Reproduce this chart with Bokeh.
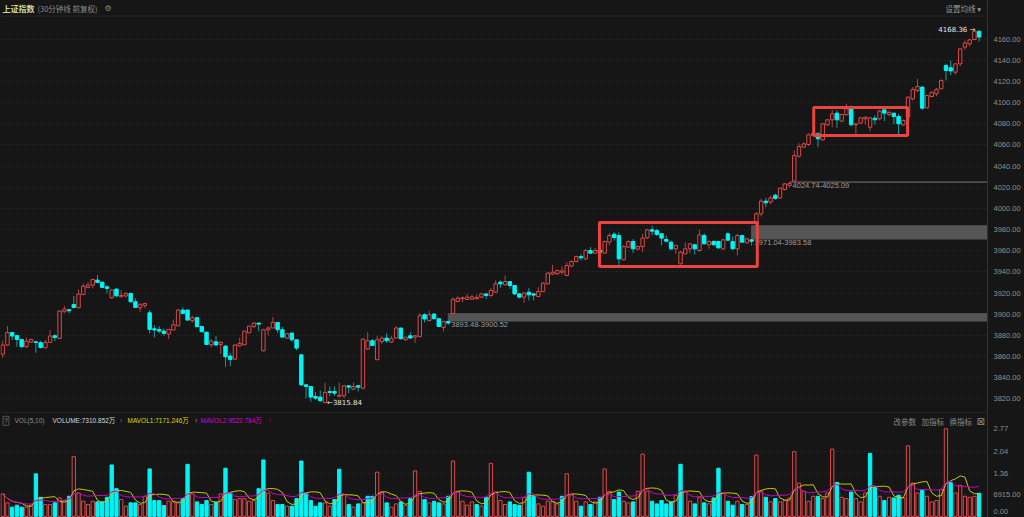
import pandas as pd
from bokeh.plotting import figure
from bokeh.models import (ColumnDataSource, Range1d, FixedTicker, PrintfTickFormatter,
                          BoxAnnotation, Label, Span, GlobalInlineStyleSheet)
from bokeh.layouts import column
from bokeh.embed import file_html
from bokeh.resources import INLINE

# ---------------- data (30-minute bars, Shanghai Composite) ----------------
title_name = "上证指数"
title_note = "(30分钟线 前复权)"

opens = [
    3862.2, 3870.8, 3882.7, 3879.9, 3876.1, 3869.2, 3873.6, 3873.9, 3873.0, 3868.2,
    3873.3, 3879.6, 3877.1, 3902.3, 3904.2, 3909.2, 3906.1, 3918.7, 3925.3, 3927.5,
    3932.2, 3930.3, 3925.9, 3915.5, 3923.7, 3916.5, 3917.3, 3919.6, 3911.7, 3906.1,
    3908.3, 3901.3, 3886.2, 3885.6, 3884.0, 3881.2, 3885.0, 3889.0, 3903.9, 3903.9,
    3893.8, 3896.6, 3888.4, 3883.0, 3871.1, 3873.9, 3871.4, 3869.8, 3860.4, 3857.5,
    3870.1, 3871.1, 3882.4, 3888.4, 3891.6, 3865.4, 3885.3, 3886.9, 3892.2, 3885.3,
    3877.4, 3882.1, 3875.8, 3861.6, 3833.2, 3831.6, 3822.2, 3821.6, 3816.5, 3826.9,
    3826.9, 3822.2, 3822.8, 3832.3, 3829.1, 3832.3, 3830.0, 3867.0, 3874.9, 3856.9,
    3874.2, 3877.4, 3873.6, 3877.4, 3886.9, 3875.8, 3879.6, 3878.3, 3879.0, 3899.5,
    3894.1, 3900.1, 3895.7, 3887.5, 3893.2, 3900.6, 3912.0, 3914.6, 3913.9, 3914.2,
    3914.5, 3916.1, 3919.2, 3917.7, 3920.8, 3930.3, 3927.8, 3930.9, 3927.1, 3919.2,
    3916.1, 3920.8, 3919.2, 3916.7, 3921.4, 3928.7, 3937.8, 3938.2, 3939.7, 3936.6,
    3945.4, 3949.8, 3954.5, 3952.3, 3960.2, 3957.7, 3960.5, 3957.7, 3968.1, 3975.6,
    3974.4, 3951.4, 3963.4, 3968.7, 3961.5, 3964.0, 3972.2, 3979.8, 3979.1, 3976.0,
    3970.6, 3968.1, 3961.8, 3947.6, 3957.0, 3961.8, 3965.6, 3960.2, 3974.4, 3965.6,
    3968.7, 3968.7, 3961.8, 3976.0, 3968.7, 3961.8, 3974.4, 3967.5, 3970.3, 3985.4,
    3994.9, 4006.9, 4006.0, 4012.5, 4010.0, 4017.9, 4021.8, 4025.8, 4049.4, 4058.0,
    4060.4, 4069.0, 4070.5, 4064.8, 4079.0, 4083.8, 4090.1, 4082.5, 4088.5, 4096.4,
    4079.0, 4080.6, 4084.7, 4076.8, 4085.3, 4084.7, 4093.2, 4088.8, 4090.1, 4086.9,
    4079.0, 4086.3, 4103.6, 4111.5, 4114.7, 4095.1, 4105.8, 4108.3, 4113.1, 4135.2,
    4133.0, 4128.8, 4136.7, 4152.5, 4155.6, 4159.7, 4167.6]

highs = [
    3874.9, 3888.7, 3882.9, 3880.2, 3876.5, 3878.0, 3876.8, 3874.2, 3874.9, 3875.5,
    3885.0, 3881.2, 3903.9, 3908.0, 3905.0, 3917.1, 3923.4, 3929.0, 3930.6, 3933.5,
    3937.0, 3930.6, 3927.5, 3923.7, 3924.6, 3922.8, 3920.9, 3920.5, 3914.9, 3910.8,
    3910.8, 3903.9, 3889.7, 3888.7, 3886.5, 3885.6, 3895.0, 3905.0, 3906.4, 3904.8,
    3898.2, 3897.5, 3889.0, 3883.4, 3876.4, 3879.3, 3874.5, 3870.8, 3863.5, 3871.7,
    3877.7, 3884.0, 3889.0, 3892.2, 3891.6, 3886.2, 3888.4, 3897.3, 3892.2, 3888.0,
    3882.0, 3883.0, 3876.0, 3862.0, 3833.8, 3832.0, 3826.3, 3827.9, 3835.4, 3831.6,
    3831.6, 3835.4, 3832.3, 3832.3, 3835.4, 3833.2, 3877.0, 3882.7, 3876.5, 3879.6,
    3879.0, 3882.0, 3879.6, 3888.4, 3887.0, 3878.3, 3883.0, 3880.0, 3901.0, 3901.0,
    3903.3, 3901.0, 3896.0, 3893.5, 3893.48, 3916.1, 3916.7, 3916.7, 3919.2, 3918.3,
    3918.6, 3920.2, 3919.4, 3924.9, 3931.9, 3931.9, 3936.6, 3931.0, 3927.5, 3920.0,
    3920.8, 3924.9, 3920.2, 3925.5, 3930.3, 3939.7, 3946.7, 3941.8, 3945.1, 3949.2,
    3950.8, 3955.5, 3957.1, 3961.8, 3963.4, 3962.7, 3962.0, 3969.7, 3976.6, 3977.5,
    3977.5, 3965.0, 3969.7, 3971.2, 3965.0, 3976.0, 3980.7, 3983.8, 3980.7, 3976.6,
    3974.4, 3969.7, 3965.6, 3959.6, 3968.1, 3967.1, 3966.5, 3979.8, 3976.6, 3969.7,
    3970.0, 3969.7, 3971.2, 3977.5, 3973.4, 3976.0, 3975.0, 3972.2, 3971.04, 3996.5,
    4009.1, 4010.0, 4012.0, 4014.0, 4020.0, 4024.0, 4024.74, 4054.8, 4061.7, 4062.5,
    4071.0, 4072.0, 4072.0, 4080.6, 4084.5, 4093.2, 4092.6, 4089.5, 4098.9, 4097.3,
    4080.0, 4086.5, 4086.9, 4085.7, 4087.9, 4093.2, 4093.2, 4092.6, 4090.1, 4089.4,
    4084.0, 4106.0, 4114.7, 4122.5, 4115.6, 4107.5, 4110.5, 4114.0, 4122.0, 4136.7,
    4139.9, 4136.7, 4151.5, 4158.8, 4160.4, 4168.36, 4168.0]

lows = [
    3858.8, 3870.2, 3875.5, 3869.2, 3868.5, 3868.0, 3872.8, 3863.5, 3867.6, 3867.6,
    3872.8, 3874.5, 3876.5, 3901.3, 3900.7, 3905.4, 3905.5, 3918.0, 3924.3, 3924.3,
    3930.0, 3924.5, 3919.6, 3914.5, 3916.0, 3916.0, 3915.5, 3911.0, 3906.0, 3902.3,
    3905.7, 3881.8, 3878.0, 3881.8, 3879.6, 3876.4, 3885.0, 3889.0, 3899.8, 3894.0,
    3891.9, 3887.5, 3883.0, 3871.0, 3868.5, 3870.5, 3862.2, 3850.3, 3850.9, 3856.6,
    3869.2, 3871.0, 3882.0, 3886.9, 3883.7, 3864.8, 3879.9, 3886.9, 3882.1, 3878.0,
    3876.8, 3874.0, 3866.0, 3832.0, 3820.6, 3817.4, 3819.0, 3817.4, 3815.84, 3822.2,
    3822.8, 3821.6, 3820.6, 3825.3, 3828.0, 3826.9, 3829.0, 3866.4, 3870.0, 3856.6,
    3872.0, 3872.7, 3872.7, 3877.0, 3876.0, 3875.2, 3877.0, 3872.7, 3878.0, 3892.2,
    3893.0, 3895.0, 3888.0, 3883.7, 3890.0, 3900.52, 3911.4, 3911.4, 3913.6, 3913.6,
    3913.9, 3915.5, 3914.5, 3916.1, 3920.0, 3924.9, 3927.1, 3924.0, 3918.0, 3915.0,
    3910.7, 3913.0, 3913.0, 3916.1, 3920.8, 3928.0, 3937.5, 3937.0, 3937.5, 3936.0,
    3944.5, 3949.0, 3950.8, 3951.0, 3957.0, 3957.0, 3957.5, 3957.0, 3964.9, 3969.7,
    3946.0, 3951.0, 3962.4, 3957.7, 3960.5, 3958.6, 3971.0, 3974.4, 3974.0, 3965.0,
    3968.0, 3960.2, 3957.0, 3947.0, 3957.0, 3957.7, 3956.4, 3959.0, 3966.0, 3961.8,
    3965.0, 3962.0, 3961.0, 3969.0, 3961.0, 3955.5, 3967.5, 3967.0, 3964.9, 3983.58,
    3992.4, 4001.2, 4004.0, 4008.0, 4009.0, 4017.0, 4020.1, 4025.09, 4048.0, 4057.0,
    4059.0, 4068.0, 4058.0, 4064.2, 4078.0, 4076.8, 4076.2, 4082.0, 4088.0, 4078.4,
    4069.0, 4080.0, 4079.0, 4073.0, 4079.0, 4083.1, 4082.5, 4086.9, 4079.4, 4069.6,
    4078.0, 4086.0, 4102.0, 4110.0, 4093.2, 4094.5, 4105.0, 4106.0, 4112.5, 4121.0,
    4126.0, 4126.7, 4134.5, 4150.0, 4153.1, 4159.0, 4157.8]

closes = [
    3870.8, 3882.7, 3879.3, 3876.1, 3869.2, 3874.5, 3876.1, 3873.3, 3868.5, 3873.3,
    3879.3, 3878.0, 3902.9, 3904.8, 3903.2, 3906.4, 3919.0, 3926.5, 3927.5, 3932.8,
    3930.0, 3925.3, 3924.3, 3922.8, 3917.4, 3917.7, 3919.6, 3911.7, 3906.4, 3908.9,
    3910.2, 3885.6, 3885.0, 3884.0, 3881.8, 3885.6, 3890.0, 3903.9, 3900.7, 3894.4,
    3896.6, 3888.1, 3883.4, 3871.4, 3874.5, 3870.8, 3873.3, 3859.7, 3857.2, 3870.8,
    3872.3, 3884.0, 3888.7, 3891.6, 3890.6, 3885.3, 3886.9, 3892.2, 3885.3, 3878.3,
    3881.5, 3875.8, 3867.9, 3833.2, 3831.6, 3821.6, 3820.6, 3818.1, 3826.0, 3826.0,
    3825.3, 3823.4, 3832.3, 3831.0, 3831.6, 3831.0, 3876.4, 3874.9, 3870.4, 3875.8,
    3877.4, 3874.9, 3876.8, 3886.9, 3876.8, 3878.3, 3877.4, 3879.6, 3898.5, 3895.4,
    3899.5, 3895.7, 3888.4, 3893.2, 3891.6, 3914.0, 3915.2, 3915.5, 3916.1, 3916.4,
    3915.8, 3919.2, 3917.7, 3922.4, 3928.7, 3928.7, 3930.9, 3927.1, 3919.2, 3916.1,
    3919.9, 3918.3, 3918.0, 3921.4, 3929.3, 3938.8, 3939.7, 3941.3, 3940.9, 3946.0,
    3949.8, 3954.5, 3953.3, 3960.2, 3957.7, 3960.2, 3958.5, 3968.7, 3974.4, 3972.5,
    3952.3, 3964.0, 3968.7, 3961.8, 3964.0, 3971.9, 3979.8, 3978.5, 3975.3, 3971.9,
    3969.0, 3961.8, 3965.0, 3958.6, 3961.8, 3966.5, 3961.8, 3975.0, 3966.5, 3968.7,
    3965.6, 3962.7, 3970.3, 3970.0, 3961.8, 3974.4, 3968.1, 3971.2, 3969.0, 3994.9,
    4006.9, 4005.3, 4010.0, 4009.5, 4019.1, 4023.2, 4023.5, 4050.0, 4058.5, 4061.0,
    4069.6, 4071.0, 4065.8, 4080.0, 4083.8, 4089.4, 4083.8, 4088.8, 4094.2, 4079.0,
    4080.0, 4085.7, 4086.3, 4085.7, 4083.8, 4092.0, 4090.1, 4090.6, 4086.9, 4080.0,
    4083.1, 4105.2, 4112.5, 4115.3, 4094.8, 4106.8, 4109.9, 4112.5, 4121.0, 4130.4,
    4130.0, 4136.7, 4150.9, 4156.3, 4159.4, 4167.6, 4162.0]

# volume in 万 (10k lots)
volumes = [
    7090, 4280, 2920, 3550, 2920, 2920, 3550, 13450, 6050, 3750,
    3750, 4280, 5840, 5010, 6360, 18880, 7410, 4800, 3750, 4800,
    4590, 4590, 6050, 16270, 8760, 5320, 3230, 4280, 4280, 3750,
    6360, 15020, 5010, 5010, 3440, 4800, 4800, 4280, 5630, 16480,
    7090, 4590, 3750, 5010, 3750, 4590, 7090, 15230, 7410, 5320,
    5630, 5630, 4800, 5010, 8760, 17840, 7410, 5010, 3750, 3750,
    3230, 3230, 5630, 17520, 7410, 5010, 3230, 4280, 4280, 3230,
    5320, 14920, 6880, 3750, 2920, 3960, 4280, 6360, 6360, 13980,
    7720, 4280, 2920, 3960, 4590, 3550, 5630, 14390, 7930, 5320,
    4280, 4800, 4280, 3960, 6360, 17520, 7720, 4800, 3550, 4590,
    3750, 3230, 6050, 16790, 7720, 5010, 3750, 4590, 3750, 3550,
    6050, 13980, 6360, 3960, 3230, 4800, 4800, 3960, 6360, 13450,
    6880, 4800, 3230, 4590, 3750, 4590, 6050, 15020, 7930, 5320,
    7720, 4800, 4280, 4590, 7930, 19710, 7930, 4800, 3960, 5010,
    3960, 4590, 6680, 16480, 7720, 4800, 3960, 6050, 4280, 3960,
    5840, 15230, 7410, 4800, 3550, 4800, 3750, 3750, 6260, 19400,
    7930, 6050, 4590, 5630, 4590, 5010, 5840, 20440, 10530, 7930,
    4800, 6360, 6360, 5630, 7410, 21280, 10740, 6050, 5630, 7720,
    5630, 4590, 7410, 19920, 9180, 6360, 5010, 6050, 5840, 6680,
    5840, 22320, 10530, 7410, 8450, 6360, 4590, 5010, 8450, 27700,
    10740, 7410, 9800, 6360, 6050, 6360, 7311]

price_ticks = [3820, 3840, 3860, 3880, 3900, 3920, 3940, 3960, 3980, 4000,
               4020, 4040, 4060, 4080, 4100, 4120, 4140, 4160]
vol_ticks = [6915, 13600, 20400, 27700]
vol_tick_labels = ["6915.00", "1.36", "2.04", "2.77"]

# price gaps (index of the bar before each gap) and highlighted boxes
gap_bars = [94, 158, 166]
boxes = [(125.9, 159.2, 3945.1, 3986.7), (171.1, 190.9, 4068.9, 4095.4)]

vol_legend = [("VOL(5,10)", "#8c8c8c"), ("VOLUME:7310.852万", "#d6d6d6"), ("↑", "#9a9a9a"),
              ("MAVOL1:7171.246万", "#d8d800"), ("↑", "#d8d800"),
              ("MAVOL2:9522.784万", "#d400d4"), ("↑", "#d400d4")]
vol_menu = ["改参数", "加指标", "换指标"]

# ---------------- styling / geometry ----------------
BG = "#161616"
RED = "#e04848"
RED_WICK = "#b04444"
CYAN = "#00f4f4"
CYAN_WICK = "#169c9c"
GRID = "#353535"
TXT = "#8f8f8f"
NUM_FONT = "Liberation Sans"
CJK_FONT = "Noto Sans CJK SC"
W, PH, VH = 1024, 413, 104
RIGHT = 37


def xi(px):          # screen x in the reference -> bar index
    return (px - 2.2) / 4.74


def yp(py):          # screen y (price panel) -> price
    return 4160 - (py - 38.7) / 1.0576


def yv(py):          # screen y (volume panel, page coords) -> volume
    return (515.9 - py) / 0.0031625


n = len(closes)
df = pd.DataFrame({"i": list(range(n)), "open": opens, "high": highs,
                   "low": lows, "close": closes, "vol": volumes})
df["top"] = df[["open", "close"]].max(axis=1)
df["bottom"] = df[["open", "close"]].min(axis=1)
up = df["close"] >= df["open"]
prev_close = df["close"].shift(1).fillna(df["open"])
vol_up = df["close"] >= prev_close
df["ma5"] = df["vol"].rolling(5, min_periods=1).mean()
df["ma10"] = df["vol"].rolling(10, min_periods=1).mean()

src_up = ColumnDataSource(df[up])
src_dn = ColumnDataSource(df[~up])
vsrc_up = ColumnDataSource(df[vol_up])
vsrc_dn = ColumnDataSource(df[~vol_up])
src_all = ColumnDataSource(df)

xr = Range1d(xi(0), xi(987))

# ---------------- price panel ----------------
p = figure(width=W, height=PH, x_range=xr, y_range=Range1d(yp(413), yp(0)),
           x_axis_location=None, y_axis_location="right", output_backend="svg",
           toolbar_location=None, min_border_left=0, min_border_right=RIGHT,
           min_border_top=0, min_border_bottom=0, background_fill_color=BG,
           border_fill_color=BG, outline_line_color=None)
p.xgrid.visible = False
p.ygrid.ticker = FixedTicker(ticks=price_ticks)
p.ygrid.grid_line_color = GRID
p.ygrid.grid_line_dash = "1 3"
ax = p.yaxis[0]
ax.ticker = FixedTicker(ticks=price_ticks)
ax.formatter = PrintfTickFormatter(format="%.2f")
ax.major_label_text_font = NUM_FONT
ax.major_label_text_font_size = "7.5px"
ax.major_label_text_color = TXT
ax.major_tick_line_color = None
ax.minor_tick_line_color = None
ax.major_tick_out = 0
ax.major_label_standoff = 6
ax.axis_line_color = "#333333"

# price gaps
for gi in gap_bars:
    lo, hi = highs[gi], lows[gi + 1]
    p.add_layout(BoxAnnotation(left=gi, bottom=lo, top=hi, fill_color="#555555",
                               fill_alpha=1.0, line_color="#555555", line_alpha=1.0,
                               line_width=1, level="underlay"))
    p.add_layout(Label(x=gi, y=lo, text=f"{lo:.2f}-{hi:.2f}", text_baseline="top",
                       x_offset=3, y_offset=-1, text_font=NUM_FONT,
                       text_font_size="7.5px", text_color="#9c9c9c"))

# candles
p.segment(x0="i", y0="high", x1="i", y1="low", source=src_up, line_color=RED_WICK, line_width=1)
p.segment(x0="i", y0="high", x1="i", y1="low", source=src_dn, line_color=CYAN_WICK, line_width=1)
p.vbar(x="i", width=0.72, top="top", bottom="bottom", source=src_up,
       fill_color=BG, line_color=RED, line_width=1)
p.vbar(x="i", width=0.72, top="top", bottom="bottom", source=src_dn,
       fill_color=CYAN, line_color=CYAN, line_width=1)

# highlighted boxes
for (l, r, b, t) in boxes:
    p.add_layout(BoxAnnotation(left=l, right=r, bottom=b, top=t, fill_alpha=0,
                               line_color="#ea4440", line_width=3, line_alpha=1.0))

# extreme labels
imax = int(df["high"].idxmax())
imin = int(df["low"].idxmin())
p.add_layout(Label(x=imax, y=highs[imax], text=f"{highs[imax]:.2f} →", text_align="right",
                   text_baseline="middle", x_offset=1, text_font="DejaVu Sans",
                   text_font_size="7px", text_color="#e6e6e6"))
p.add_layout(Label(x=imin, y=lows[imin], text=f"←{lows[imin]:.2f}", text_align="left",
                   text_baseline="middle", x_offset=2, text_font="DejaVu Sans",
                   text_font_size="7px", text_color="#e6e6e6"))

# header row + separators
p.add_layout(Span(location=yp(15.5), dimension="width", line_color="#232323", line_width=1))
p.add_layout(Span(location=yp(412.5), dimension="width", line_color="#333333", line_width=1))


def lab(x_px, y_val, text, color, size, font, align="left", style="normal"):
    return Label(x=xi(x_px), y=y_val, text=text, text_color=color, text_font_size=size,
                 text_font=font, text_align=align, text_baseline="middle",
                 text_font_style=style)


p.add_layout(lab(2, yp(8), title_name, "#d2d69c", "8px", CJK_FONT, style="bold"))
p.add_layout(lab(37, yp(8), title_note, "#8a8a8a", "7.5px", CJK_FONT))
p.add_layout(lab(104, yp(8), "⚙", "#8a8a8a", "8px", "DejaVu Sans"))
p.add_layout(lab(945, yp(8), "设置均线 ▾", "#9a9a9a", "7.5px", "Noto Sans CJK SC, DejaVu Sans"))

# ---------------- volume panel ----------------
v = figure(width=W, height=VH, x_range=xr, y_range=Range1d(yv(517), yv(413)),
           x_axis_location=None, y_axis_location="right", output_backend="svg",
           toolbar_location=None, min_border_left=0, min_border_right=RIGHT,
           min_border_top=0, min_border_bottom=0, background_fill_color=BG,
           border_fill_color=BG, outline_line_color=None)
v.xgrid.visible = False
v.ygrid.ticker = FixedTicker(ticks=vol_ticks[:3])
v.ygrid.grid_line_color = GRID
v.ygrid.grid_line_dash = "1 3"

# the zero label of the volume scale is drawn just above the panel's bottom edge,
# as in the reference, so that it is not cut off
zero_label_at = round(yv(511))
vax = v.yaxis[0]
vax.ticker = FixedTicker(ticks=[zero_label_at] + vol_ticks)
overrides = {t: s for t, s in zip(vol_ticks, vol_tick_labels)}
overrides[zero_label_at] = "0.00"
vax.major_label_overrides = overrides
vax.major_label_text_font = NUM_FONT
vax.major_label_text_font_size = "7.5px"
vax.major_label_text_color = TXT
vax.major_tick_line_color = None
vax.minor_tick_line_color = None
vax.major_tick_out = 0
vax.major_label_standoff = 6
vax.axis_line_color = "#333333"

v.vbar(x="i", width=0.7, top="vol", bottom=0, source=vsrc_up, fill_color=BG,
       line_color=RED, line_width=1)
v.vbar(x="i", width=0.7, top="vol", bottom=0, source=vsrc_dn, fill_color=CYAN,
       line_color=CYAN, line_width=1)
v.line(x="i", y="ma5", source=src_all, line_color="#c8c800", line_width=1)
v.line(x="i", y="ma10", source=src_all, line_color="#c800c8", line_width=1)

v.add_layout(Label(x=xi(2.5), y=yv(420.3), text="?", text_color="#8a8a8a", text_font=NUM_FONT,
                   text_font_size="7px", text_baseline="middle", border_line_color="#555555",
                   padding=1))
leg_x = [14, 52, 119, 127, 194, 200, 268]
for (txt, col), lx in zip(vol_legend, leg_x):
    v.add_layout(lab(lx, yv(420.3), txt, col, "6.5px", "Liberation Sans, Noto Sans CJK SC"))
for txt, lx in zip(vol_menu, [893, 921, 949]):
    v.add_layout(lab(lx, yv(420.5), txt, "#8a8a8a", "7.5px", CJK_FONT))
v.add_layout(lab(976, yv(420.5), "⊠", "#8a8a8a", "10px", "DejaVu Sans"))

layout = column(p, v, stylesheets=[GlobalInlineStyleSheet(css="html, body { background-color: #161616; }")])

open("out.html", "w").write(file_html(layout, INLINE))
